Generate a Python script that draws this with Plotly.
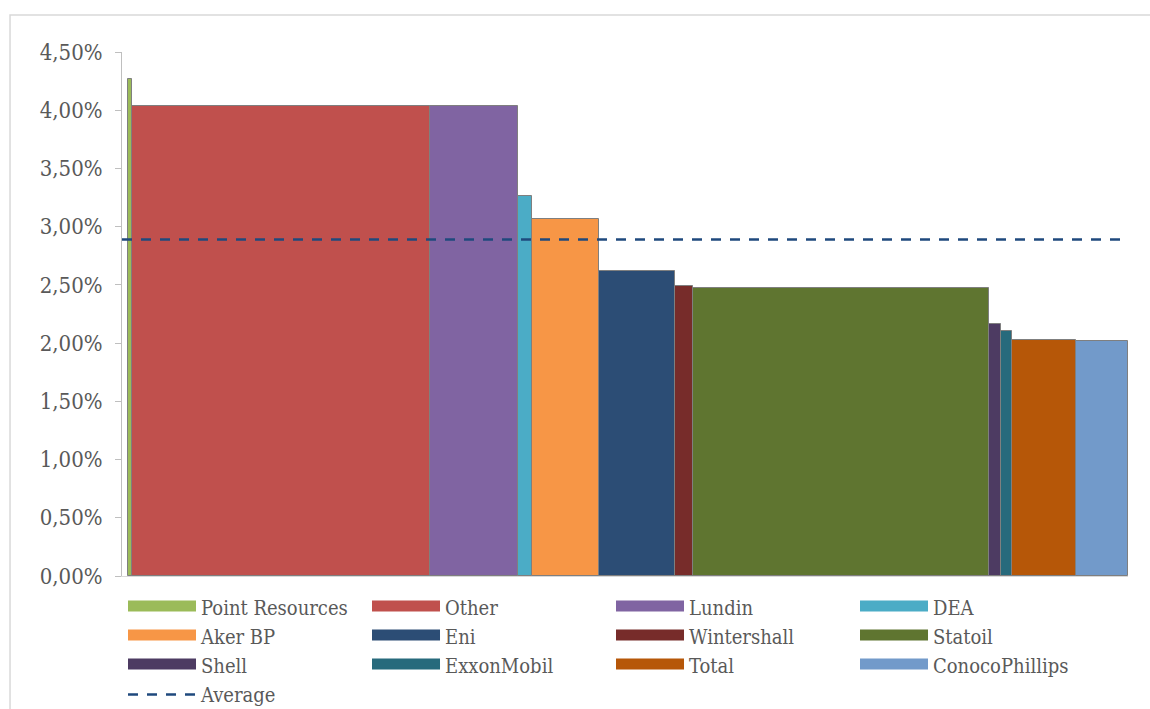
import plotly.graph_objects as go

companies = ["Point Resources", "Other", "Lundin", "DEA", "Aker BP", "Eni",
             "Wintershall", "Statoil", "Shell", "ExxonMobil", "Total", "ConocoPhillips"]
values = [0.0427, 0.0404, 0.0404, 0.0326, 0.0307, 0.0262,
          0.0249, 0.0247, 0.0216, 0.0210, 0.0203, 0.0202]
widths = [4, 298, 88, 14, 67, 77, 18, 296, 12, 11, 64, 52]
colors = ["#9BBB59", "#C0504D", "#8064A2", "#4BACC6", "#F79646", "#2C4D75",
          "#772C2A", "#5F7530", "#4D3B62", "#276A7C", "#B65708", "#729ACA"]
average = 0.0289
avg_color = "#1F497D"

FONT = "DejaVu Serif Condensed, DejaVu Serif"
TXT = "#595959"

x_start = -6
fig = go.Figure()
left = 0
for name, v, w, c in zip(companies, values, widths, colors):
    fig.add_trace(go.Bar(
        x=[left + w / 2], y=[v], width=[w], name=name,
        marker=dict(color=c, line=dict(color="#7f7f7f", width=1)),
        showlegend=False, legendgroup=name,
    ))
    left += w

# legend swatches
for name, c in zip(companies, colors):
    fig.add_trace(go.Scatter(
        x=[None], y=[None], mode="lines", name=name, legendgroup=name,
        fill="toself", fillcolor=c,
        line=dict(color=c, width=10),
    ))

fig.add_trace(go.Scatter(
    x=[x_start, left], y=[average, average], mode="lines", name="Average",
    line=dict(color=avg_color, width=2.5, dash="10px,9px"),
))

fig.update_layout(
    width=1150, height=709,
    margin=dict(l=122, r=22, t=52, b=133, autoexpand=False),
    paper_bgcolor="white", plot_bgcolor="white",
    barmode="overlay", bargap=0,
    separators=",.",
    font=dict(family=FONT, color=TXT, size=20),
    xaxis=dict(range=[x_start, left], showgrid=False, zeroline=False,
               showticklabels=False, ticks="", showline=True,
               linecolor="#d9d9d9", linewidth=1),
    yaxis=dict(range=[0, 0.045], dtick=0.005, tickformat=".2%",
               showgrid=False, zeroline=False, showline=True,
               linecolor="#bfbfbf", linewidth=1, ticks="outside",
               ticklen=6, tickcolor="#bfbfbf",
               tickfont=dict(family=FONT, size=22, color=TXT),
               ticklabelstandoff=8),
    legend=dict(orientation="h", x=0.001, xanchor="left", y=-0.023, yanchor="top",
                itemwidth=68, entrywidth=161, entrywidthmode="pixels",
                font=dict(family=FONT, size=20, color=TXT),
                traceorder="normal", itemclick=False),
    shapes=[dict(type="rect", xref="paper", yref="paper",
                 x0=-0.1113, x1=1.04, y0=-0.29, y1=1.0706,
                 line=dict(color="#d9d9d9", width=1.5), layer="below")],
)

fig.write_html("out.html")
